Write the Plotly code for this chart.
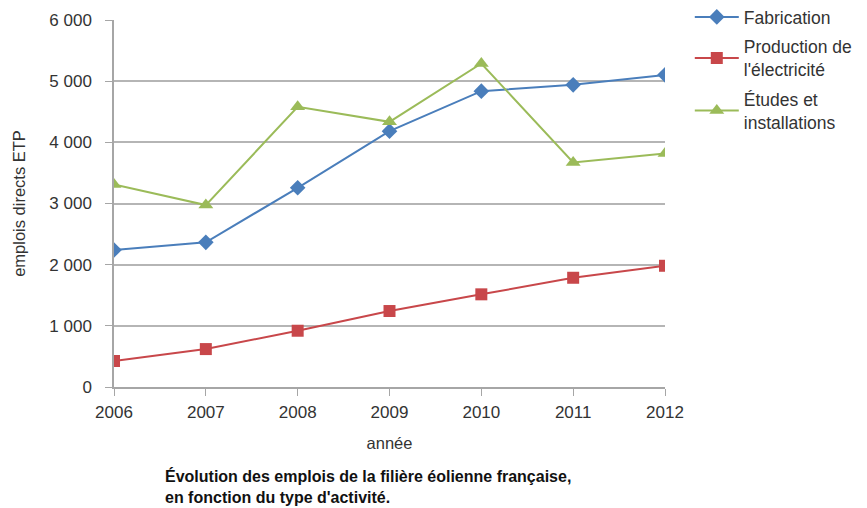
import plotly.graph_objects as go

years = [2006, 2007, 2008, 2009, 2010, 2011, 2012]
fabrication = [2240, 2365, 3257, 4183, 4837, 4940, 5103]
production = [425, 620, 920, 1242, 1515, 1786, 1982]
etudes = [3312, 2974, 4580, 4335, 5289, 3672, 3818]

series = [
    ("Fabrication", fabrication, "#4A7EBB", "diamond", 12),
    ("Production de<br>l'électricité", production, "#C8474A", "square", 12),
    ("Études et<br>installations", etudes, "#9BBB59", "triangle-up", 13),
]

fig = go.Figure()
for i, (name, values, color, symbol, size) in enumerate(series):
    fig.add_trace(
        go.Scatter(
            x=years,
            y=values,
            name=name,
            legendgroup=f"g{i}",
            mode="lines+markers",
            line=dict(color=color, width=2),
            marker=dict(symbol=symbol, size=size, color=color),
        )
    )

plot_h = 508 - 20 - 121

fig.update_layout(
    width=867,
    height=508,
    margin=dict(l=114, r=202, t=20, b=121, autoexpand=False),
    paper_bgcolor="white",
    plot_bgcolor="white",
    font=dict(family="Liberation Sans, Arial, sans-serif", size=17, color="#333333"),
    separators=", ",
    legend=dict(
        x=1.045,
        y=1 + 21 / plot_h,
        xanchor="left",
        yanchor="top",
        font=dict(size=17.5, color="#333333"),
        tracegroupgap=4,
        itemwidth=44,
    ),
    annotations=[
        dict(
            text="<b>Évolution des emplois de la filière éolienne française,<br>"
                 "en fonction du type d'activité.</b>",
            xref="paper",
            yref="paper",
            x=(163 - 114) / 551,
            y=(387 - 465) / plot_h,
            xanchor="left",
            yanchor="top",
            align="left",
            showarrow=False,
            font=dict(size=16, color="#111111"),
        )
    ],
)

fig.update_xaxes(
    range=[2006, 2012],
    tickvals=years,
    showgrid=False,
    showline=True,
    linecolor="#A6A6A6",
    linewidth=1.5,
    ticks="outside",
    ticklen=7,
    tickcolor="#A6A6A6",
    ticklabelstandoff=2,
    title=dict(text="année", font=dict(size=16.5), standoff=16),
    zeroline=False,
)

fig.update_yaxes(
    range=[0, 6000],
    dtick=1000,
    tickformat=",d",
    showgrid=True,
    gridcolor="#B5B5B5",
    gridwidth=1.5,
    showline=True,
    linecolor="#A6A6A6",
    linewidth=1.5,
    ticks="outside",
    ticklen=7,
    tickcolor="#A6A6A6",
    ticklabelstandoff=10,
    title=dict(text="emplois directs ETP", font=dict(size=16.5), standoff=20),
    zeroline=False,
)

# drop the default body margin so the figure sits at the window corner
fig.write_html(
    "out.html",
    config={"displayModeBar": False},
    post_script="document.body.style.margin = '0';",
)
